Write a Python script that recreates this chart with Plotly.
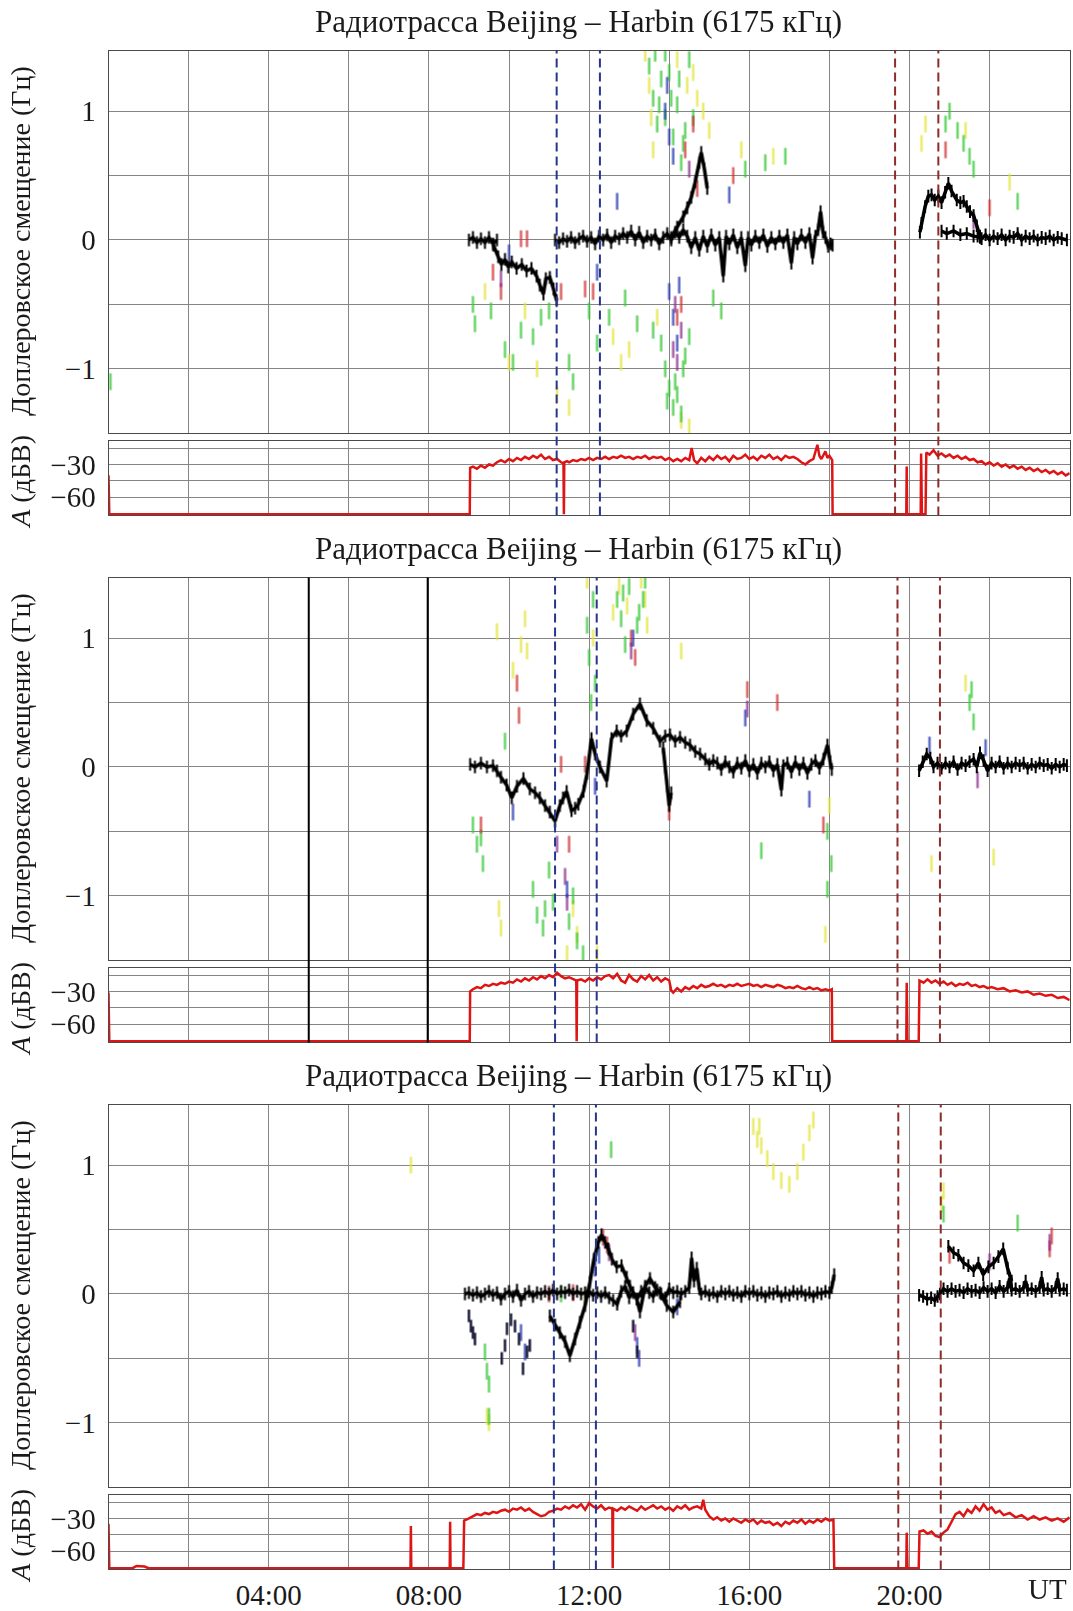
import plotly.graph_objects as go

# ---------------------------------------------------------------- texts
TITLE = "Радиотрасса Beijing – Harbin (6175 кГц)"
DOPPLER_TITLE = "Доплеровское смещение (Гц)"
AMP_TITLE = "<i>A</i> (дБВ)"
X_TICK_HOURS = [4, 8, 12, 16, 20]
X_TICK_LABELS = ["04:00", "08:00", "12:00", "16:00", "20:00"]
X_END_LABEL = "UT"
D_TICKS = [-1, 0, 1]
D_TICK_LABELS = ["−1", "0", "1"]
A_TICKS = [-60, -30]
A_TICK_LABELS = ["−60", "−30"]

# ---------------------------------------------------------------- event markers (UT hours)
BLUE_MARKS = [[11.19, 12.27], [11.15, 12.19], [11.12, 12.17]]
RED_MARKS = [[19.64, 20.72], [19.70, 20.76], [19.72, 20.78]]
P2_BLACK_MARKS = [5.0, 7.97]

# ---------------------------------------------------------------- panel 1 : Doppler (t, Hz)
P1_MAIN_A = [(9.0, 0.0), (9.1, 0.02), (9.2, -0.02), (9.3, 0.01), (9.4, -0.02), (9.5, 0.02), (9.6, -0.03), (9.7, 0.0)]
P1_LOWER = [(9.61, -0.04), (9.73, -0.13), (9.81, -0.19), (9.9, -0.15), (9.98, -0.21), (10.07, -0.17), (10.19, -0.22),
            (10.32, -0.19), (10.44, -0.24), (10.56, -0.22), (10.69, -0.28), (10.77, -0.35), (10.86, -0.42), (10.92, -0.30),
            (11.02, -0.29), (11.11, -0.38), (11.19, -0.47)]
P1_MAIN_B = [(11.15, 0.0), (11.25, -0.02), (11.35, 0.01), (11.45, -0.01), (11.55, 0.02), (11.65, -0.02), (11.75, 0.01),
             (11.85, 0.03), (11.95, -0.01), (12.05, 0.02), (12.15, -0.03), (12.25, 0.03), (12.35, 0.0), (12.45, 0.04),
             (12.55, -0.02), (12.65, 0.03), (12.75, 0.01), (12.85, 0.05), (12.95, 0.02), (13.05, 0.07), (13.15, 0.0),
             (13.25, 0.06), (13.35, -0.02), (13.45, 0.03), (13.55, 0.0), (13.65, 0.04), (13.75, -0.03), (13.85, 0.02),
             (13.95, 0.05), (14.05, 0.0), (14.15, 0.06), (14.25, 0.02), (14.35, 0.08), (14.45, 0.03), (14.55, -0.06),
             (14.65, 0.02), (14.75, -0.08), (14.85, 0.03), (14.95, -0.05), (15.05, 0.04), (15.15, -0.04), (15.25, 0.02),
             (15.35, -0.28), (15.42, 0.03), (15.5, -0.03), (15.6, 0.04), (15.7, -0.06), (15.8, 0.02), (15.9, -0.2),
             (15.97, 0.02), (16.05, -0.04), (16.15, 0.03), (16.25, -0.02), (16.35, 0.04), (16.45, -0.05), (16.55, 0.02),
             (16.65, -0.03), (16.75, 0.03), (16.85, -0.02), (16.95, 0.04), (17.05, -0.18), (17.12, 0.02), (17.2, -0.03),
             (17.3, 0.04), (17.4, -0.02), (17.5, 0.05), (17.58, -0.14), (17.65, 0.03), (17.72, 0.08), (17.78, 0.22),
             (17.84, 0.06), (17.9, 0.02), (17.97, -0.05), (18.03, -0.03), (18.08, -0.04)]
P1_BRANCH = [(14.05, 0.02), (14.2, 0.1), (14.35, 0.18), (14.45, 0.25), (14.55, 0.33), (14.65, 0.45), (14.75, 0.6),
             (14.8, 0.68), (14.88, 0.55), (14.95, 0.4)]
P1_HUMP = [(20.26, 0.06), (20.3, 0.13), (20.39, 0.26), (20.47, 0.34), (20.55, 0.35), (20.63, 0.31), (20.72, 0.34),
           (20.8, 0.29), (20.89, 0.37), (20.97, 0.44), (21.05, 0.38), (21.18, 0.31), (21.27, 0.29), (21.35, 0.30),
           (21.43, 0.26), (21.51, 0.22), (21.6, 0.19), (21.68, 0.11), (21.76, 0.03)]
P1_LOW_B = [(20.8, 0.07), (20.93, 0.05), (21.1, 0.07), (21.27, 0.04), (21.43, 0.05), (21.6, 0.03), (21.76, 0.02)]
P1_FLAT_B = [(21.7, 0.03), (21.8, 0.01), (21.9, 0.04), (22.0, 0.0), (22.1, 0.03), (22.2, 0.01), (22.3, 0.04),
             (22.4, 0.0), (22.5, 0.03), (22.6, 0.02), (22.7, 0.05), (22.8, 0.0), (22.9, 0.03), (23.0, 0.01),
             (23.1, 0.03), (23.2, 0.0), (23.3, 0.02), (23.4, 0.01), (23.5, 0.03), (23.6, 0.0), (23.7, 0.02),
             (23.8, 0.01), (23.93, 0.0)]
P1_GREEN = [(9.1, -0.5), (9.15, -0.65), (9.9, -0.85), (10.1, -0.95), (10.6, -0.75), (10.8, -0.6), (11.5, -0.95),
            (11.6, -1.1), (12.0, -0.55), (12.2, -0.8), (12.5, -0.6), (12.9, -0.45), (13.2, -0.65), (13.5, 1.35),
            (13.6, 1.1), (13.7, 0.9), (13.8, 1.25), (13.9, 0.95), (14.0, 1.3), (14.1, 0.8), (14.2, 1.05), (14.3, 0.6),
            (14.4, 0.85), (14.5, 1.4), (14.6, 0.95), (13.9, 1.45), (13.8, -0.8), (13.9, -1.0), (14.0, -1.15),
            (14.1, -1.3), (14.2, -1.2), (14.3, -1.35), (14.4, -0.9), (14.5, -0.75), (13.6, -0.7), (15.1, -0.45),
            (15.9, 0.55), (16.4, 0.6), (16.9, 0.65), (15.3, -0.55), (20.9, 0.9), (21.0, 1.0), (21.2, 0.85),
            (21.35, 0.75), (21.5, 0.65), (21.6, 0.55), (22.7, 0.3), (0.05, -1.1), (13.65, 1.45), (13.75, 1.05),
            (14.05, 1.1), (14.25, 1.25), (14.35, 0.75), (13.95, -1.25), (14.15, -1.1), (14.35, -1.0), (9.55, -0.55),
            (10.3, -0.7), (11.0, -0.55)]
P1_YELLOW = [(10.0, -0.95), (10.4, -0.55), (11.2, -1.2), (11.5, -1.3), (12.6, -0.75), (13.0, -0.85), (13.4, 1.45),
             (13.5, 1.2), (13.6, 0.7), (14.2, 1.4), (14.7, 1.1), (14.6, 1.3), (15.0, 0.85), (14.3, -1.4), (14.5, -1.45),
             (13.7, -0.6), (15.8, 0.7), (16.6, 0.65), (20.3, 0.75), (20.4, 0.9), (21.4, 0.85), (22.5, 0.45), (9.4, -0.4),
             (13.55, 0.95), (14.45, 1.2), (14.85, 1.0), (12.8, -0.95), (10.7, -1.0)]
P1_RED = [(9.6, -0.25), (9.8, -0.4), (10.3, 0.01), (10.45, 0.01), (11.3, -0.4), (11.9, -0.38), (12.1, -0.4),
          (14.3, -0.5), (14.6, 0.9), (14.4, 0.7), (14.7, 0.4), (15.6, 0.5), (20.9, 0.7), (22.0, 0.25), (14.2, -0.6)]
P1_BLUE = [(12.2, -0.25), (13.9, 1.0), (14.0, 0.8), (14.1, 0.65), (14.0, -0.4), (14.1, -0.6), (14.2, -0.8),
           (15.5, 0.35), (10.0, -0.1), (12.7, 0.3), (13.95, 1.2), (14.25, -0.35)]
P1_PURPLE = [(14.15, -0.5), (14.2, -0.95), (14.3, -0.7), (9.8, -0.3), (14.5, 0.55), (21.6, 0.15), (14.1, -0.85)]

# ---------------------------------------------------------------- panel 2 : Doppler
P2_MAIN = [(9.03, 0.02), (9.15, 0.0), (9.3, 0.03), (9.45, 0.0), (9.6, 0.01), (9.7, -0.03), (9.8, -0.08), (9.94, -0.14),
           (10.07, -0.24), (10.2, -0.15), (10.36, -0.09), (10.52, -0.17), (10.65, -0.2), (10.77, -0.24), (10.9, -0.3),
           (11.02, -0.35), (11.15, -0.42), (11.27, -0.3), (11.35, -0.24), (11.44, -0.19), (11.56, -0.34), (11.65, -0.32),
           (11.73, -0.29), (11.86, -0.19), (11.95, -0.05), (12.06, 0.22), (12.15, 0.1), (12.27, 0.0), (12.44, -0.11),
           (12.56, 0.22), (12.69, 0.28), (12.8, 0.24), (12.94, 0.28), (13.1, 0.41), (13.27, 0.49), (13.44, 0.36),
           (13.6, 0.3), (13.77, 0.2), (13.9, 0.24), (14.02, 0.25), (14.15, 0.2), (14.27, 0.23), (14.4, 0.19),
           (14.52, 0.17), (14.65, 0.12), (14.77, 0.1), (14.9, 0.06), (15.0, 0.02), (15.1, 0.05), (15.2, 0.03),
           (15.3, -0.02), (15.4, 0.04), (15.5, 0.0), (15.6, -0.04), (15.7, 0.03), (15.8, -0.01), (15.9, 0.05),
           (16.0, -0.03), (16.1, 0.02), (16.2, -0.05), (16.3, 0.03), (16.4, 0.0), (16.5, 0.04), (16.6, -0.03),
           (16.7, 0.02), (16.8, -0.18), (16.85, 0.01), (16.95, 0.03), (17.05, -0.04), (17.15, 0.04), (17.25, -0.02),
           (17.35, 0.03), (17.45, -0.05), (17.55, 0.02), (17.65, 0.05), (17.75, -0.01), (17.85, 0.06), (17.95, 0.17),
           (18.02, 0.04), (18.06, -0.02)]
P2_BRANCH = [(13.85, 0.15), (13.9, 0.0), (13.95, -0.15), (14.0, -0.3), (14.05, -0.2)]
P2_SEG_B = [(20.24, -0.03), (20.33, 0.04), (20.43, 0.1), (20.52, 0.07), (20.6, 0.0), (20.7, 0.03), (20.8, -0.01),
            (20.9, 0.03), (21.0, 0.0), (21.1, 0.04), (21.2, -0.02), (21.3, 0.03), (21.4, 0.01), (21.5, 0.04),
            (21.6, 0.06), (21.68, 0.0), (21.76, 0.11), (21.85, 0.05), (21.95, -0.03), (22.05, 0.03), (22.15, 0.0),
            (22.25, 0.04), (22.35, -0.01), (22.45, 0.03), (22.55, 0.0), (22.65, 0.03), (22.75, 0.01), (22.85, 0.03),
            (22.95, -0.01), (23.05, 0.02), (23.15, 0.0), (23.25, 0.03), (23.35, 0.01), (23.45, 0.02), (23.55, -0.01),
            (23.65, 0.02), (23.75, 0.0), (23.85, 0.02), (23.93, 0.01)]
P2_GREEN = [(9.1, -0.45), (9.2, -0.6), (9.3, -0.55), (9.35, -0.75), (10.6, -0.95), (10.7, -1.15), (10.85, -1.25),
            (11.1, -1.05), (11.5, -1.2), (11.7, -1.35), (11.85, -1.45), (11.95, 1.1), (12.0, 0.85), (12.05, 0.5),
            (12.1, 1.3), (12.15, 0.65), (12.7, 1.3), (12.8, 1.15), (12.9, 0.95), (13.0, 1.4), (13.2, 1.1), (13.35, 1.3),
            (13.4, 1.45), (16.3, -0.65), (17.95, -0.5), (17.95, -0.95), (18.05, -0.75), (21.5, 0.5), (21.6, 0.35),
            (21.55, 0.6), (9.9, 0.2), (11.0, -0.8), (12.85, 1.35), (13.25, 1.2), (11.6, -1.0), (10.9, -1.1)]
P2_YELLOW = [(9.7, 1.05), (10.4, 1.15), (10.45, 0.9), (10.1, 0.75), (11.95, 1.45), (12.1, 1.0), (12.6, 1.2),
             (12.75, 1.4), (13.3, 1.45), (13.4, 1.3), (13.45, 1.1), (14.3, 0.9), (9.75, -1.1), (9.8, -1.25),
             (11.6, -1.1), (11.7, -1.3), (11.45, -1.45), (17.9, -1.3), (18.0, -0.3), (20.55, -0.75), (22.1, -0.7),
             (21.4, 0.65), (12.2, -1.45), (10.3, 0.95), (12.95, 1.25)]
P2_RED = [(10.2, 0.65), (10.25, 0.4), (9.3, -0.45), (13.05, 1.0), (13.15, 0.85), (14.0, -0.35), (15.95, 0.6),
          (16.7, 0.5), (17.85, -0.45), (11.3, 0.02), (11.9, 0.02), (11.5, -0.6)]
P2_BLUE = [(11.45, -0.95), (13.1, 1.0), (12.15, -0.15), (15.9, 0.38), (21.9, 0.15), (20.5, 0.17), (17.5, -0.25),
           (10.1, -0.35)]
P2_PURPLE = [(11.4, -0.85), (11.45, -1.05), (13.05, 0.9), (15.95, 0.45), (21.7, -0.1), (11.2, -0.6)]

# ---------------------------------------------------------------- panel 3 : Doppler
P3_MAIN = [(8.9, 0.0), (9.0, 0.01), (9.1, -0.01), (9.2, 0.01), (9.3, -0.02), (9.4, 0.0), (9.5, 0.02), (9.6, -0.01),
           (9.7, 0.01), (9.8, -0.04), (9.9, 0.0), (10.0, 0.02), (10.1, -0.02), (10.2, 0.03), (10.3, -0.05), (10.4, 0.0),
           (10.5, 0.02), (10.6, -0.02), (10.7, 0.01), (10.8, 0.0), (10.9, 0.02), (11.0, 0.0), (11.1, 0.03), (11.2, 0.0),
           (11.3, 0.02), (11.4, 0.01), (11.5, 0.03), (11.6, 0.0), (11.7, 0.02), (11.8, 0.0), (11.9, 0.01), (12.0, 0.02),
           (12.1, -0.01), (12.2, 0.01), (12.3, -0.02), (12.4, 0.01), (12.5, -0.03), (12.6, -0.05), (12.7, -0.08),
           (12.8, 0.02), (12.9, 0.06), (13.0, -0.03), (13.1, 0.01), (13.2, -0.04), (13.3, 0.02), (13.4, 0.05),
           (13.5, 0.01), (13.6, -0.02), (13.7, 0.03), (13.8, 0.0), (13.9, -0.03), (14.0, 0.04), (14.1, 0.01),
           (14.2, 0.02), (14.3, 0.0), (14.4, 0.02), (14.5, 0.05), (14.56, 0.28), (14.62, 0.1), (14.69, 0.2),
           (14.75, 0.04), (14.8, 0.0), (14.9, 0.02), (15.0, -0.01), (15.1, 0.01), (15.2, -0.02), (15.3, 0.02),
           (15.4, 0.0), (15.5, 0.02), (15.6, -0.01), (15.7, 0.01), (15.8, -0.02), (15.9, 0.02), (16.0, 0.0),
           (16.1, 0.02), (16.2, -0.01), (16.3, 0.01), (16.4, -0.02), (16.5, 0.01), (16.6, 0.0), (16.7, 0.02),
           (16.8, -0.02), (16.9, 0.01), (17.0, -0.01), (17.1, 0.02), (17.2, 0.0), (17.3, 0.02), (17.4, -0.01),
           (17.5, 0.01), (17.6, -0.02), (17.7, 0.01), (17.8, 0.0), (17.9, 0.02), (18.0, 0.01), (18.06, 0.05),
           (18.12, 0.15)]
P3_VBRANCH = [(11.02, -0.17), (11.15, -0.24), (11.27, -0.3), (11.4, -0.37), (11.52, -0.48), (11.65, -0.35),
              (11.77, -0.22), (11.9, -0.09), (12.02, 0.09), (12.12, 0.27), (12.23, 0.4), (12.31, 0.46), (12.4, 0.4),
              (12.48, 0.35), (12.57, 0.27), (12.69, 0.21), (12.81, 0.22), (12.94, 0.13), (13.02, 0.06), (13.19, -0.04),
              (13.27, -0.14), (13.4, 0.06), (13.52, 0.12), (13.65, 0.05), (13.77, 0.01), (13.94, -0.09), (14.1, -0.14),
              (14.27, -0.06)]
P3_DOTS = [(9.0, -0.17), (9.05, -0.25), (9.1, -0.3), (9.15, -0.35), (9.82, -0.5), (9.9, -0.4), (9.95, -0.27),
           (10.05, -0.2), (10.15, -0.25), (10.25, -0.35), (10.35, -0.58), (10.45, -0.45), (10.52, -0.4), (13.1, -0.25),
           (13.2, -0.45)]
P3_SEG_B = [(20.24, -0.01), (20.34, -0.02), (20.44, -0.04), (20.54, -0.03), (20.63, -0.05), (20.7, -0.02),
            (20.76, 0.0), (20.85, 0.04), (20.95, 0.02), (21.05, 0.04), (21.15, 0.02), (21.25, 0.03), (21.35, 0.01),
            (21.45, 0.04), (21.55, 0.02), (21.65, 0.03), (21.75, 0.01), (21.85, 0.05), (21.95, 0.02), (22.05, 0.04),
            (22.15, 0.01), (22.25, 0.06), (22.35, 0.02), (22.45, 0.05), (22.5, 0.12), (22.55, 0.03), (22.65, 0.04),
            (22.75, 0.02), (22.85, 0.05), (22.9, 0.1), (22.95, 0.03), (23.05, 0.04), (23.15, 0.02), (23.25, 0.05),
            (23.3, 0.13), (23.35, 0.03), (23.45, 0.04), (23.55, 0.02), (23.65, 0.05), (23.7, 0.12), (23.75, 0.03),
            (23.85, 0.04), (23.93, 0.03)]
P3_UPPER_B = [(20.97, 0.37), (21.1, 0.32), (21.22, 0.3), (21.35, 0.24), (21.47, 0.22), (21.6, 0.18), (21.72, 0.24),
              (21.84, 0.15), (21.97, 0.21), (22.1, 0.24), (22.22, 0.29), (22.34, 0.35), (22.45, 0.2), (22.55, 0.1)]
P3_GREEN = [(9.4, -0.45), (9.45, -0.6), (9.5, -0.7), (9.5, -0.95), (12.55, 1.12), (12.2, 0.36), (22.7, 0.55),
            (11.3, 0.0), (20.85, 0.62)]
P3_YELLOW = [(9.45, -0.95), (9.5, -1.0), (16.1, 1.3), (16.2, 1.2), (16.3, 1.15), (16.45, 1.05), (16.6, 0.95),
             (16.8, 0.88), (17.0, 0.85), (17.2, 0.95), (17.35, 1.1), (17.5, 1.25), (17.6, 1.35), (16.25, 1.3),
             (7.55, 1.0), (20.8, 0.7), (20.85, 0.8), (11.9, -0.02)]
P3_RED = [(11.0, 0.0), (11.6, 0.01), (12.35, 0.44), (12.45, 0.38), (23.55, 0.45), (23.5, 0.35), (21.0, 0.3)]
P3_BLUE = [(12.25, 0.3), (12.15, 0.2), (13.2, -0.4), (13.25, -0.5), (10.3, -0.3), (10.4, -0.45), (14.2, -0.1)]
P3_PURPLE = [(13.15, -0.3), (23.5, 0.4), (22.0, 0.25), (12.5, 0.32)]

# ---------------------------------------------------------------- amplitudes (t, dB)
P1_AMP = [(0.0, -40), (0.02, -75.5), (9.02, -75.5), (9.03, -33), (9.1, -32), (9.2, -34), (9.3, -31), (9.4, -33),
          (9.5, -30), (9.6, -31), (9.7, -28), (9.8, -26), (9.9, -28), (10.0, -25), (10.1, -27), (10.2, -24),
          (10.3, -26), (10.4, -23), (10.5, -25), (10.6, -22), (10.7, -24), (10.8, -21), (10.9, -25), (11.0, -23),
          (11.1, -26), (11.2, -25), (11.3, -28), (11.36, -29), (11.37, -75.5), (11.38, -28), (11.45, -27), (11.5, -28),
          (11.6, -26), (11.7, -27), (11.8, -25), (11.9, -26), (12.0, -24), (12.1, -26), (12.2, -24), (12.3, -25),
          (12.4, -23), (12.5, -25), (12.6, -23), (12.7, -24), (12.8, -22), (12.9, -24), (13.0, -23), (13.1, -25),
          (13.2, -23), (13.3, -24), (13.4, -22), (13.5, -25), (13.6, -23), (13.7, -24), (13.8, -23), (13.9, -26),
          (14.0, -24), (14.1, -27), (14.2, -25), (14.3, -27), (14.4, -24), (14.5, -26), (14.56, -15), (14.62, -26),
          (14.7, -29), (14.8, -24), (14.9, -27), (15.0, -23), (15.1, -26), (15.2, -22), (15.3, -25), (15.4, -23),
          (15.5, -27), (15.6, -22), (15.7, -25), (15.8, -24), (15.9, -21), (16.0, -25), (16.1, -23), (16.2, -26),
          (16.3, -22), (16.4, -24), (16.5, -21), (16.6, -25), (16.7, -23), (16.8, -26), (16.9, -22), (17.0, -24),
          (17.1, -23), (17.2, -25), (17.3, -28), (17.4, -30), (17.5, -27), (17.6, -25), (17.7, -12), (17.75, -22),
          (17.8, -25), (17.9, -18), (17.95, -24), (18.0, -22), (18.07, -26), (18.08, -75.5), (19.92, -75.5),
          (19.93, -32), (19.94, -75.5), (20.28, -75.5), (20.29, -20), (20.31, -75.5), (20.4, -75.5), (20.42, -19),
          (20.5, -21), (20.6, -17), (20.7, -22), (20.8, -20), (20.9, -23), (21.0, -21), (21.1, -24), (21.2, -22),
          (21.3, -25), (21.4, -23), (21.5, -26), (21.6, -25), (21.7, -28), (21.8, -27), (21.9, -30), (22.0, -28),
          (22.1, -31), (22.2, -29), (22.3, -32), (22.4, -30), (22.5, -33), (22.6, -31), (22.7, -34), (22.8, -32),
          (22.9, -35), (23.0, -33), (23.1, -36), (23.2, -34), (23.3, -37), (23.4, -35), (23.5, -38), (23.6, -36),
          (23.7, -39), (23.8, -37), (23.9, -40), (24.0, -38)]
P2_AMP = [(0.0, -31), (0.02, -75.5), (9.02, -75.5), (9.03, -30), (9.1, -28), (9.2, -26), (9.3, -27), (9.4, -24),
          (9.5, -25), (9.6, -23), (9.7, -24), (9.8, -22), (9.9, -23), (10.0, -21), (10.1, -22), (10.2, -19),
          (10.3, -21), (10.4, -18), (10.5, -20), (10.6, -17), (10.7, -19), (10.8, -16), (10.9, -18), (11.0, -15),
          (11.1, -17), (11.2, -13), (11.3, -16), (11.4, -18), (11.5, -17), (11.6, -19), (11.68, -20), (11.69, -75.5),
          (11.7, -20), (11.8, -19), (11.9, -21), (12.0, -18), (12.1, -20), (12.2, -17), (12.3, -19), (12.4, -16),
          (12.5, -15), (12.6, -18), (12.7, -14), (12.8, -20), (12.9, -22), (13.0, -15), (13.1, -19), (13.2, -21),
          (13.3, -16), (13.4, -19), (13.5, -15), (13.6, -20), (13.7, -17), (13.8, -21), (13.9, -18), (14.0, -20),
          (14.05, -29), (14.1, -31), (14.2, -27), (14.3, -30), (14.4, -26), (14.5, -28), (14.6, -25), (14.7, -27),
          (14.8, -24), (14.9, -26), (15.0, -25), (15.1, -23), (15.2, -25), (15.3, -24), (15.4, -26), (15.5, -24),
          (15.6, -25), (15.7, -23), (15.8, -25), (15.9, -24), (16.0, -23), (16.1, -25), (16.2, -24), (16.3, -26),
          (16.4, -24), (16.5, -25), (16.6, -26), (16.7, -24), (16.8, -25), (16.9, -27), (17.0, -26), (17.1, -27),
          (17.2, -25), (17.3, -27), (17.4, -28), (17.5, -26), (17.6, -28), (17.7, -27), (17.8, -29), (17.9, -28),
          (18.0, -29), (18.06, -28), (18.07, -75.5), (19.92, -75.5), (19.93, -22), (19.95, -75.5), (20.23, -75.5),
          (20.25, -20), (20.35, -22), (20.45, -19), (20.55, -22), (20.65, -20), (20.75, -23), (20.85, -21),
          (20.95, -24), (21.05, -22), (21.15, -25), (21.25, -23), (21.35, -24), (21.45, -22), (21.55, -25),
          (21.65, -24), (21.75, -26), (21.85, -25), (21.95, -27), (22.05, -26), (22.2, -28), (22.35, -27),
          (22.5, -30), (22.65, -29), (22.8, -31), (22.95, -30), (23.1, -33), (23.25, -32), (23.4, -34), (23.55, -33),
          (23.7, -36), (23.85, -35), (24.0, -38)]
P3_AMP = [(0.0, -35), (0.02, -75.5), (0.6, -75.5), (0.7, -73.5), (0.9, -74), (1.0, -75.5), (7.54, -75.5), (7.55, -37),
          (7.56, -75.5), (8.52, -75.5), (8.53, -33), (8.54, -75.5), (8.86, -75.5), (8.88, -32), (9.0, -30), (9.1, -28),
          (9.2, -26), (9.3, -27), (9.4, -25), (9.5, -26), (9.6, -24), (9.7, -25), (9.8, -23), (9.9, -22), (10.0, -24),
          (10.1, -21), (10.2, -22), (10.3, -20), (10.4, -23), (10.5, -21), (10.6, -24), (10.7, -26), (10.8, -28),
          (10.9, -27), (11.0, -24), (11.1, -23), (11.2, -21), (11.3, -22), (11.4, -19), (11.5, -21), (11.6, -18),
          (11.7, -20), (11.8, -17), (11.9, -22), (12.0, -16), (12.1, -19), (12.2, -21), (12.3, -18), (12.4, -22),
          (12.5, -20), (12.58, -21), (12.59, -75.5), (12.6, -21), (12.7, -23), (12.8, -20), (12.9, -22), (13.0, -19),
          (13.1, -21), (13.2, -23), (13.3, -19), (13.4, -22), (13.5, -20), (13.6, -18), (13.7, -21), (13.8, -19),
          (13.9, -22), (14.0, -20), (14.1, -23), (14.2, -19), (14.3, -21), (14.4, -18), (14.5, -22), (14.6, -20),
          (14.7, -19), (14.8, -21), (14.85, -13), (14.9, -22), (15.0, -28), (15.1, -31), (15.2, -29), (15.3, -32),
          (15.4, -30), (15.5, -33), (15.6, -30), (15.7, -32), (15.8, -34), (15.9, -31), (16.0, -33), (16.1, -31),
          (16.2, -35), (16.3, -32), (16.4, -34), (16.5, -33), (16.6, -36), (16.7, -34), (16.8, -37), (16.9, -33),
          (17.0, -35), (17.1, -32), (17.2, -34), (17.3, -31), (17.4, -35), (17.5, -32), (17.6, -34), (17.7, -31),
          (17.8, -33), (17.9, -30), (18.0, -32), (18.1, -31), (18.12, -75.5), (19.92, -75.5), (19.93, -43),
          (19.95, -75.5), (20.23, -75.5), (20.25, -42), (20.35, -41), (20.45, -44), (20.55, -42), (20.65, -46),
          (20.75, -47), (20.85, -43), (20.95, -40), (21.05, -33), (21.15, -26), (21.25, -24), (21.35, -28),
          (21.45, -22), (21.55, -25), (21.65, -19), (21.75, -23), (21.85, -17), (21.95, -22), (22.05, -20),
          (22.15, -25), (22.25, -23), (22.35, -27), (22.5, -25), (22.65, -29), (22.8, -27), (22.95, -31), (23.1, -28),
          (23.25, -31), (23.4, -29), (23.55, -32), (23.7, -30), (23.85, -33), (24.0, -29)]

PANELS = [
    dict(black=[P1_MAIN_A, P1_LOWER, P1_MAIN_B, P1_BRANCH, P1_HUMP, P1_LOW_B, P1_FLAT_B], dots=[],
         green=P1_GREEN, yellow=P1_YELLOW, red=P1_RED, blue=P1_BLUE, purple=P1_PURPLE, amp=P1_AMP),
    dict(black=[P2_MAIN, P2_BRANCH, P2_SEG_B], dots=[],
         green=P2_GREEN, yellow=P2_YELLOW, red=P2_RED, blue=P2_BLUE, purple=P2_PURPLE, amp=P2_AMP),
    dict(black=[P3_MAIN, P3_VBRANCH, P3_SEG_B, P3_UPPER_B], dots=P3_DOTS,
         green=P3_GREEN, yellow=P3_YELLOW, red=P3_RED, blue=P3_BLUE, purple=P3_PURPLE, amp=P3_AMP),
]

# ---------------------------------------------------------------- layout constants
W, H = 1073, 1611
PX_L, PX_R = 108.5, 1069.7
STEP = 528.3
FONT = "Liberation Serif"
GRID = "#858585"
FRAME = "#4a4a4a"
COLORS = dict(green="#35c835", yellow="#e4e43a", red="#d03030", blue="#2636b0", purple="#8a2c8c")


def py(p):
    return 1 - p / H


def ax(i):
    return "" if i == 1 else str(i)


fig = go.Figure()
xdom = [PX_L / W, PX_R / W]
grid_hours = list(range(0, 25, 2))
bottom_text = [X_TICK_LABELS[X_TICK_HOURS.index(h)] if h in X_TICK_HOURS else "" for h in grid_hours]

for k, pan in enumerate(PANELS):
    di, ai = 2 * k + 1, 2 * k + 2
    dop_top, dop_bot = 50.7 + STEP * k, 434.3 + STEP * k
    amp_top, amp_bot = 441.7 + STEP * k, 516.7 + STEP * k
    common_x = dict(range=[0, 24], domain=xdom, tickvals=grid_hours, showgrid=True, gridcolor=GRID, gridwidth=1,
                    showline=True, mirror=True, linecolor=FRAME, linewidth=1, zeroline=False,
                    tickfont=dict(family=FONT, size=29, color="#1a1a1a"), ticks="")
    fig.layout["xaxis" + ax(di)] = dict(common_x, anchor="y" + ax(di), showticklabels=False)
    fig.layout["xaxis" + ax(ai)] = dict(common_x, anchor="y" + ax(ai), showticklabels=(k == 2),
                                        ticktext=bottom_text)
    fig.layout["yaxis" + ax(di)] = dict(
        range=[-1.5, 1.47], domain=[py(dop_bot), py(dop_top)], anchor="x" + ax(di),
        tickvals=[-1, -0.5, 0, 0.5, 1],
        ticktext=[D_TICK_LABELS[D_TICKS.index(v)] if v in D_TICKS else "" for v in [-1, -0.5, 0, 0.5, 1]],
        showgrid=True, gridcolor=GRID, gridwidth=1, zeroline=False, showline=True, mirror=True, linecolor=FRAME,
        linewidth=1, ticks="outside", ticklen=6, tickcolor="rgba(0,0,0,0)",
        tickfont=dict(family=FONT, size=29, color="#1a1a1a"))
    fig.layout["yaxis" + ax(ai)] = dict(
        range=[-76.6, -8.2], domain=[py(amp_bot), py(amp_top)], anchor="x" + ax(ai),
        tickvals=[-60, -45, -30, -15],
        ticktext=[A_TICK_LABELS[A_TICKS.index(v)] if v in A_TICKS else "" for v in [-60, -45, -30, -15]],
        showgrid=True, gridcolor=GRID, gridwidth=1, zeroline=False, showline=True, mirror=True, linecolor=FRAME,
        linewidth=1, ticks="outside", ticklen=6, tickcolor="rgba(0,0,0,0)",
        tickfont=dict(family=FONT, size=29, color="#1a1a1a"))

    xa_d, ya_d = "x" + ax(di), "y" + ax(di)
    xa_a, ya_a = "x" + ax(ai), "y" + ax(ai)

    # coloured Doppler strokes
    for cname in ["yellow", "green", "red", "purple", "blue"]:
        pts = pan[cname]
        fig.add_trace(go.Scatter(
            x=[p[0] for p in pts], y=[p[1] for p in pts], mode="markers", xaxis=xa_d, yaxis=ya_d,
            marker=dict(symbol="line-ns", size=12, color=COLORS[cname], line=dict(width=2.5, color=COLORS[cname])),
            opacity=0.75, hoverinfo="skip"))
    if pan["dots"]:
        pts = pan["dots"]
        fig.add_trace(go.Scatter(
            x=[p[0] for p in pts], y=[p[1] for p in pts], mode="markers", xaxis=xa_d, yaxis=ya_d,
            marker=dict(symbol="line-ns", size=9, color="#1b1b3a", line=dict(width=2.5, color="#1b1b3a")),
            hoverinfo="skip"))
    # black Doppler traces (noisy band: line + short vertical strokes)
    for seg in pan["black"]:
        fig.add_trace(go.Scatter(
            x=[p[0] for p in seg], y=[p[1] for p in seg], mode="lines+markers", xaxis=xa_d, yaxis=ya_d,
            line=dict(color="black", width=3.5),
            marker=dict(symbol="line-ns", size=9, color="black", line=dict(width=2, color="black")),
            hoverinfo="skip"))
    # amplitude
    amp = pan["amp"]
    fig.add_trace(go.Scatter(
        x=[p[0] for p in amp], y=[p[1] for p in amp], mode="lines", xaxis=xa_a, yaxis=ya_a,
        line=dict(color="#dd1515", width=2.5), hoverinfo="skip"))

    # event markers
    for t in BLUE_MARKS[k]:
        fig.add_shape(type="line", xref=xa_d, yref="paper", x0=t, x1=t, y0=py(amp_bot), y1=py(dop_top),
                      line=dict(color="#27358f", width=2, dash="9px,5px"))
    for t in RED_MARKS[k]:
        fig.add_shape(type="line", xref=xa_d, yref="paper", x0=t, x1=t, y0=py(amp_bot), y1=py(dop_top),
                      line=dict(color="#8e2b2b", width=2, dash="9px,5px"))
    if k == 1:
        for t in P2_BLACK_MARKS:
            fig.add_shape(type="line", xref=xa_d, yref="paper", x0=t, x1=t, y0=py(amp_bot), y1=py(dop_top),
                          line=dict(color="black", width=2))

    # titles
    tx = [578.7, 578.7, 568.4][k]
    fig.add_annotation(text=TITLE, xref="paper", yref="paper", x=tx / W, y=py(21.6 + STEP * k),
                       xanchor="center", yanchor="middle", showarrow=False,
                       font=dict(family=FONT, size=31, color="#1a1a1a"))
    fig.add_annotation(text=DOPPLER_TITLE, xref="paper", yref="paper", x=21 / W, y=py(241.5 + STEP * k),
                       xanchor="center", yanchor="middle", textangle=-90, showarrow=False,
                       font=dict(family=FONT, size=28, color="#1a1a1a"))
    fig.add_annotation(text=AMP_TITLE, xref="paper", yref="paper", x=21 / W, y=py(483 + STEP * k),
                       xanchor="center", yanchor="middle", textangle=-90, showarrow=False,
                       font=dict(family=FONT, size=28, color="#1a1a1a"))

fig.add_annotation(text=X_END_LABEL, xref="x6", yref="paper", x=23.45, y=py(1593),
                   xanchor="center", yanchor="middle", showarrow=False,
                   font=dict(family=FONT, size=29, color="#1a1a1a"))

fig.update_layout(width=W, height=H, margin=dict(l=0, r=0, t=0, b=0), showlegend=False,
                  paper_bgcolor="white", plot_bgcolor="white")
fig.write_html("out.html")
